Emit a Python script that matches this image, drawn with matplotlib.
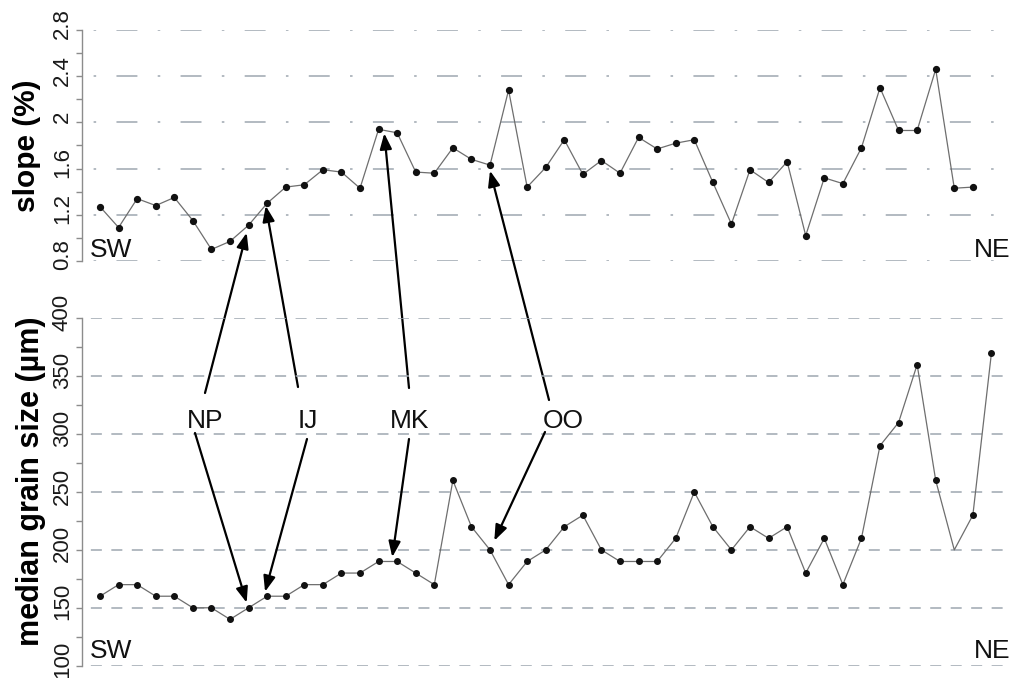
import matplotlib
matplotlib.use("Agg")
import matplotlib.pyplot as plt
from matplotlib.ticker import MultipleLocator, NullFormatter
from matplotlib.transforms import ScaledTranslation, offset_copy, blended_transform_factory

plt.rcParams['font.family'] = ['Liberation Sans', 'DejaVu Sans']

# ---- data ----
slope = [1.27, 1.09, 1.34, 1.28, 1.35, 1.15, 0.90, 0.97, 1.11, 1.30,
         1.44, 1.46, 1.59, 1.57, 1.43, 1.94, 1.91, 1.57, 1.56, 1.78,
         1.68, 1.63, 2.28, 1.44, 1.61, 1.85, 1.55, 1.67, 1.56, 1.87,
         1.77, 1.82, 1.85, 1.48, 1.12, 1.59, 1.48, 1.66, 1.02, 1.52,
         1.47, 1.78, 2.30, 1.93, 1.93, 2.46, 1.43, 1.44]
grain = [160, 170, 170, 160, 160, 150, 150, 140, 150, 160,
         160, 170, 170, 180, 180, 190, 190, 180, 170, 260,
         220, 200, 170, 190, 200, 220, 230, 200, 190, 190,
         190, 210, 250, 220, 200, 220, 210, 220, 180, 210,
         170, 210, 290, 310, 360, 260, 200, 230, 370]
grain_no_marker = [46]
slope_ticks = [0.8, 1.2, 1.6, 2.0, 2.4, 2.8]
grain_ticks = [100, 150, 200, 250, 300, 350, 400]

# annotations: label, index, text x px, up-arrow start, up tip offset,
# down-arrow start, down target index, down tip offset
annots = [
    ("NP", 8, 205, (205, 393), (-1.9, -7.6), (195, 433), 8, (-1.9, 5.1)),
    ("IJ", 9, 307.5, (298, 387), (-1.4, -2.6), (307, 439), 9, (-2.1, 4.5)),
    ("MK", 15, 410, (409, 388), (5.7, -4.0), (409, 439), 15, (13.7, 4.4)),
    ("OO", 21, 563, (549, 400), (0.0, -5.6), (545, 432), 21, (4.3, 9.2)),
]

W, H = 1015, 678
fig = plt.figure(figsize=(W / 100, H / 100), dpi=100)
fig.patch.set_facecolor('white')

L, R = 82, 1010
ax1 = fig.add_axes([L / W, 1 - 261 / H, (R - L) / W, 231 / H])
ax2 = fig.add_axes([L / W, 1 - 665.7 / H, (R - L) / W, 347.4 / H])

x1 = list(range(len(slope)))
x2 = list(range(len(grain)))

line_col = '#6e6e6e'
grid_col = '#9ea7b0'
spine_col = '#8c8c8c'

ax1.plot(x1, slope, '-', color=line_col, lw=0.9, marker='o', ms=4.2,
         mfc='#111111', mec='#111111', zorder=3)
mk = [i for i in x2 if i not in grain_no_marker]
ax2.plot(x2, grain, '-', color=line_col, lw=0.9, marker='o', ms=4.0,
         mfc='#111111', mec='#111111', markevery=mk, zorder=3)

xl = (-0.97, 49.0)
for ax in (ax1, ax2):
    ax.set_xlim(*xl)
    for s in ('top', 'right', 'bottom'):
        ax.spines[s].set_visible(False)
    ax.spines['left'].set_color(spine_col)
    ax.spines['left'].set_linewidth(1.0)
    ax.set_xticks([])
    ax.tick_params(axis='y', which='both', direction='out', length=4,
                   color=spine_col, width=1.0)
    ax.set_facecolor('none')

ax1.set_ylim(0.8, 2.8)
ax1.set_yticks(slope_ticks)
ax1.yaxis.set_minor_locator(MultipleLocator(0.2))
ax2.set_ylim(100, 400)
ax2.set_yticks(grain_ticks)
ax2.yaxis.set_minor_locator(MultipleLocator(25))
for ax in (ax1, ax2):
    ax.yaxis.set_major_formatter(NullFormatter())

# rotated tick labels, shifted slightly upward as in the reference
off = ScaledTranslation(-9 / 100, 6 / 100, fig.dpi_scale_trans)
for ax, ticks in ((ax1, slope_ticks), (ax2, grain_ticks)):
    tr = blended_transform_factory(ax.transAxes, ax.transData) + off
    for v in ticks:
        ax.text(0, v, f"{v:g}", transform=tr, rotation=90, ha='right',
                va='center', fontsize=16, color='#1a1a1a', clip_on=False)

ax1.grid(axis='y', color=grid_col, lw=1.1,
         linestyle=(19.4, (13.7, 13.3, 1.66, 13.3)))
ax2.grid(axis='y', color=grid_col, lw=1.1,
         linestyle=(7.6, (7.2, 6.2)))

ax1.set_ylabel('slope (%)', fontsize=21.5, fontweight='bold', va='center', ha='center')
ax1.yaxis.set_label_coords(-0.0593, 0.5)
ax2.set_ylabel('median grain size (µm)', fontsize=22, fontweight='bold', va='center', ha='center')
ax2.yaxis.set_label_coords(-0.055, 0.532)

for ax, yb in ((ax1, 0.017), (ax2, 0.022)):
    ax.text(0.0086, yb, 'SW', transform=ax.transAxes, fontsize=19,
            ha='left', va='baseline', color='#111111')
    ax.text(1.0, yb, 'NE', transform=ax.transAxes, fontsize=19,
            ha='right', va='baseline', color='#111111')

aprops = dict(arrowstyle='-|>,head_length=0.47,head_width=0.18', color='black',
              lw=1.6, shrinkA=0, shrinkB=0, mutation_scale=20)
for lab, iu, tx, su, ou, sd, idn, od in annots:
    fig.text(tx / W, 1 - 428 / H, lab, fontsize=19, ha='center', va='baseline',
             color='#111111')
    tr_u = offset_copy(ax1.transData, fig=fig, x=ou[0], y=ou[1], units='dots')
    ax1.annotate('', xy=(iu, slope[iu]), xycoords=tr_u,
                 xytext=(su[0], H - su[1]), textcoords='figure pixels',
                 arrowprops=aprops, annotation_clip=False)
    tr_d = offset_copy(ax2.transData, fig=fig, x=od[0], y=od[1], units='dots')
    ax2.annotate('', xy=(idn, grain[idn]), xycoords=tr_d,
                 xytext=(sd[0], H - sd[1]), textcoords='figure pixels',
                 arrowprops=aprops, annotation_clip=False)

fig.savefig('out.png', dpi=100, facecolor='white')
